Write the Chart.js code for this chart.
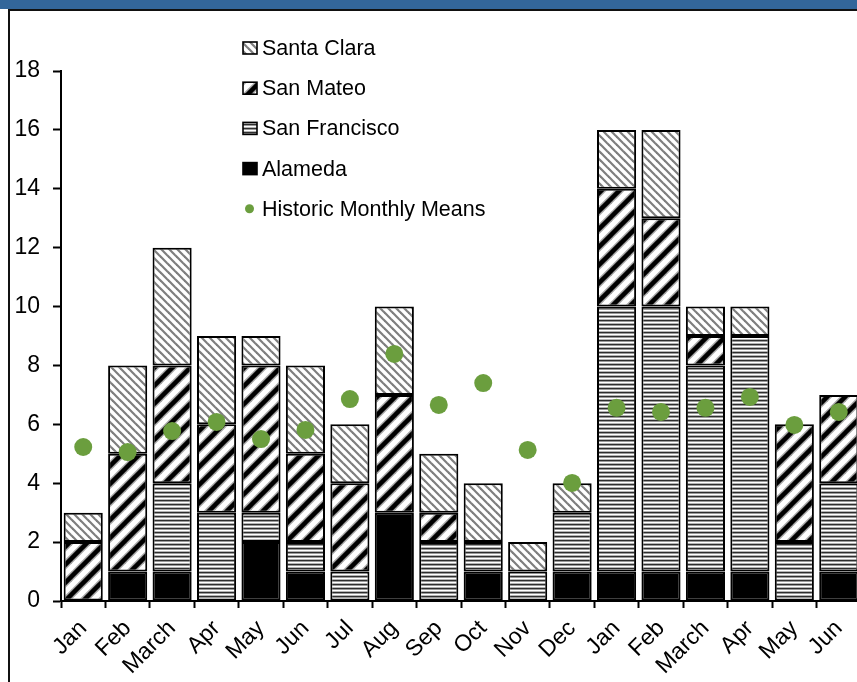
<!DOCTYPE html>
<html>
<head>
<meta charset="utf-8">
<script src="https://cdn.jsdelivr.net/npm/chart.js@4.4.1/dist/chart.umd.min.js"></script>
<style>
  html, body { margin: 0; padding: 0; background: #fff; overflow: hidden; }
  body { width: 857px; height: 682px; position: relative; }
  #wrap { position: absolute; left: 0; top: 0; width: 870px; height: 682px; }
  #topBar { position: absolute; left: 0; top: 0; width: 857px; height: 9px; background: #33669a; z-index: 2; }
  #topRule { position: absolute; left: 8px; top: 9px; width: 849px; height: 2px; background: #111; z-index: 2; }
  #leftRule { position: absolute; left: 8px; top: 9px; width: 2px; height: 673px; background: #111; z-index: 2; }
</style>
</head>
<body>
<div id="topBar"></div>
<div id="topRule"></div>
<div id="leftRule"></div>
<div id="wrap"><canvas id="chart" width="870" height="682"></canvas></div>
<script>
// Months covered by the chart (two seasons)
const months = ['Jan','Feb','March','Apr','May','Jun','Jul','Aug','Sep','Oct','Nov','Dec',
                'Jan','Feb','March','Apr','May','Jun'];

// Monthly counts per county
const alameda      = [0,1,1,0,2,1,0,3,0,1,0,1,1,1,1,1,0,1];
const sanFrancisco = [0,0,3,3,1,1,1,0,2,1,1,2,9,9,7,8,2,3];
const sanMateo     = [2,4,4,3,5,3,3,4,1,0,0,0,4,3,1,0,4,3];
const santaClara   = [1,3,4,3,1,3,2,3,2,2,1,1,2,3,1,1,0,0];

// Long-run monthly averages
const historicMeans = [5.23,5.06,5.77,6.08,5.5,5.81,6.86,8.39,6.66,7.4,5.13,4.01,
                       6.56,6.42,6.56,6.93,5.98,6.42];

// Y axis tick values
const yTicks = [0,2,4,6,8,10,12,14,16,18];

const FONT = '"Liberation Sans", Arial, sans-serif';

// ---- fill patterns ----
function tile(w, h, draw) {
  const c = document.createElement('canvas');
  c.width = w; c.height = h;
  const g = c.getContext('2d');
  g.fillStyle = '#fff';
  g.fillRect(0, 0, w, h);
  draw(g, w, h);
  return g.createPattern(c, 'repeat');
}

// diagonal lines extended past the tile so thick strokes wrap seamlessly
function diagonals(g, w, h, rising) {
  for (let k = -2; k <= 2; k++) {
    g.beginPath();
    if (rising) {
      g.moveTo(k * w - w, 2 * h);
      g.lineTo(k * w + 2 * w, -h);
    } else {
      g.moveTo(k * w - w, -h);
      g.lineTo(k * w + 2 * w, 2 * h);
    }
    g.stroke();
  }
}

// thin grey "\" hatching
const thinHatch = tile(8, 8, (g, w, h) => {
  g.strokeStyle = '#7e7e7e';
  g.lineWidth = 2.2;
  diagonals(g, w, h, false);
});

// wide black "/" stripes with soft edges
const wideStripe = tile(18, 18, (g, w, h) => {
  g.strokeStyle = 'rgba(0,0,0,0.35)';
  g.lineWidth = 7.5;
  diagonals(g, w, h, true);
  g.strokeStyle = '#000';
  g.lineWidth = 4.5;
  diagonals(g, w, h, true);
});

// horizontal grey lines
const hLines = tile(4, 4, (g) => {
  g.fillStyle = '#2e2e2e'; g.fillRect(0, 0, 4, 1);
  g.fillStyle = '#9a9a9a'; g.fillRect(0, 1, 4, 1);
  g.fillStyle = '#ffffff'; g.fillRect(0, 2, 4, 1);
  g.fillStyle = '#b4b4b4'; g.fillRect(0, 3, 4, 1);
});

const GREEN = '#6b9e3e';
const nz = arr => arr.map(v => (v === 0 ? null : v));

function barSet(label, data, fill) {
  return {
    type: 'bar',
    label,
    data: nz(data),
    backgroundColor: fill,
    borderColor: '#000',
    borderWidth: 2,
    borderSkipped: false,
    barPercentage: 0.88,
    categoryPercentage: 1.0,
    order: 1
  };
}

// legend drawn inside the plot area
const legendItems = [
  { text: 'Santa Clara', fill: thinHatch },
  { text: 'San Mateo', fill: wideStripe },
  { text: 'San Francisco', fill: hLines },
  { text: 'Alameda', fill: '#000' },
  { text: 'Historic Monthly Means', dot: true }
];

const insideLegend = {
  id: 'insideLegend',
  afterDraw(chart) {
    const ctx = chart.ctx;
    const a = chart.chartArea;
    const x0 = a.left + 182;
    let y = a.top - 23;
    ctx.save();
    ctx.font = '21.5px ' + FONT;
    ctx.textBaseline = 'middle';
    legendItems.forEach(it => {
      if (it.dot) {
        ctx.beginPath();
        ctx.arc(x0 + 6.5, y, 4.5, 0, Math.PI * 2);
        ctx.fillStyle = GREEN;
        ctx.fill();
      } else {
        ctx.fillStyle = it.fill;
        ctx.fillRect(x0, y - 6, 14, 12);
        ctx.strokeStyle = '#000';
        ctx.lineWidth = 1.6;
        ctx.strokeRect(x0, y - 6, 14, 12);
      }
      ctx.fillStyle = '#000';
      ctx.fillText(it.text, x0 + 19, y + 1);
      y += 40.2;
    });
    ctx.restore();
  }
};

new Chart(document.getElementById('chart'), {
  data: {
    labels: months,
    datasets: [
      barSet('Alameda', alameda, '#000'),
      barSet('San Francisco', sanFrancisco, hLines),
      barSet('San Mateo', sanMateo, wideStripe),
      barSet('Santa Clara', santaClara, thinHatch),
      {
        type: 'line',
        label: 'Historic Monthly Means',
        data: historicMeans,
        showLine: false,
        pointRadius: 9,
        pointHoverRadius: 9,
        pointBackgroundColor: GREEN,
        pointBorderWidth: 0,
        borderColor: GREEN,
        order: 0
      }
    ]
  },
  options: {
    responsive: false,
    animation: false,
    devicePixelRatio: 1,
    layout: { padding: { top: 71, right: 6.5, left: 0, bottom: 0 } },
    plugins: { legend: { display: false }, tooltip: { enabled: false } },
    scales: {
      x: {
        stacked: true,
        offset: true,
        afterFit(s) { s.height = 81; },
        grid: {
          offset: true,
          drawOnChartArea: false,
          drawTicks: true,
          tickLength: 7,
          tickWidth: 2,
          tickColor: '#000'
        },
        border: { display: true, color: '#000', width: 2 },
        ticks: {
          autoSkip: false,
          maxRotation: 45,
          minRotation: 45,
          padding: 7,
          color: '#000',
          font: { family: FONT, size: 23 }
        }
      },
      y: {
        stacked: true,
        min: 0,
        max: 18,
        afterFit(s) { s.width = 61; },
        afterBuildTicks(s) { s.ticks = yTicks.map(v => ({ value: v })); },
        grid: {
          drawOnChartArea: false,
          drawTicks: true,
          tickLength: 8,
          tickWidth: 2,
          tickColor: '#000'
        },
        border: { display: true, color: '#000', width: 2 },
        ticks: {
          padding: 13,
          color: '#000',
          font: { family: FONT, size: 23 }
        }
      }
    }
  },
  plugins: [insideLegend]
});
</script>
</body>
</html>
